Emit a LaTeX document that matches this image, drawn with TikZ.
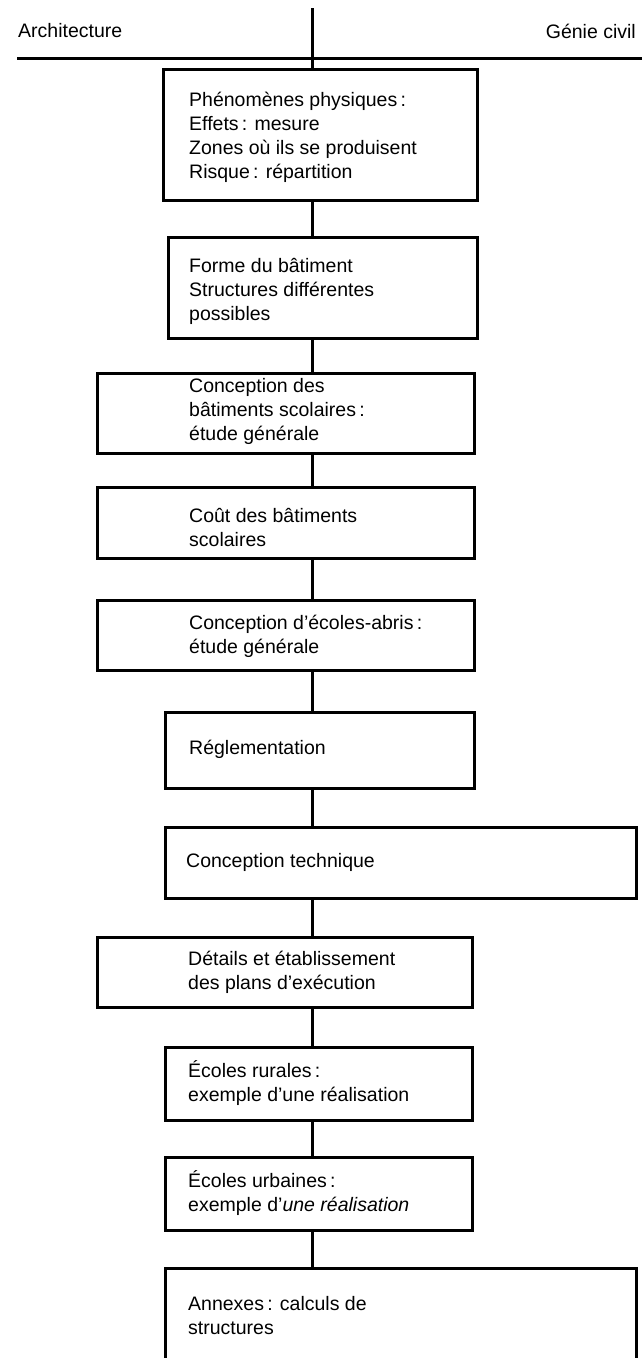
\documentclass[tikz,border=0pt]{standalone}
\usepackage{fontspec}
\setmainfont{Liberation Sans}
\usetikzlibrary{fit}
\begin{document}
\begin{tikzpicture}[x=1pt,y=-1pt,
  boxnode/.style={draw, inner sep=0pt, line width=3pt},
  txt/.style={anchor=west, align=left, inner sep=0pt, font=\fontsize{19.5}{24}\selectfont},
  conn/.style={line width=3pt},
  rule/.style={line width=3pt}]
\useasboundingbox (0,0) rectangle (642,1358);
\coordinate (axis) at (312,0);
\coordinate (top) at (312,8);
\coordinate (hl) at (17,58);
\coordinate (hr) at (642,58);

\node[txt] (arch) at (18,31) {Architecture};
\node[txt, anchor=east] (gc) at (636,31) {Génie civil};
\draw[rule] (hl) -- (hr);

% boxes
\node[boxnode, fit={(163,69) (477,200)}] (b1) {};
\node[boxnode, fit={(168,237) (477,338)}] (b2) {};
\node[boxnode, fit={(97,373) (474,453)}] (b3) {};
\node[boxnode, fit={(97,487) (474,558)}] (b4) {};
\node[boxnode, fit={(97,600) (474,670)}] (b5) {};
\node[boxnode, fit={(165,712) (474,788)}] (b6) {};
\node[boxnode, fit={(165,827) (636,898)}] (b7) {};
\node[boxnode, fit={(97,937) (472,1007)}] (b8) {};
\node[boxnode, fit={(165,1047) (472,1120)}] (b9) {};
\node[boxnode, fit={(165,1157) (472,1230)}] (b10) {};
\coordinate (b11nw) at (165,1268);
\coordinate (b11ne) at (636,1268);
\coordinate (b11sw) at (165,1362);
\coordinate (b11se) at (636,1362);
\draw[rule] (b11sw) -- (b11nw) -- (b11ne) -- (b11se);

% texts
\node[txt] (t1) at (189,137) {Phénomènes physiques\,:\\Effets\,: mesure\\Zones où ils se produisent\\Risque\,: répartition};
\node[txt] (t2) at (189,291) {Forme du bâtiment\\Structures différentes\\possibles};
\node[txt] (t3) at (189,411) {Conception des\\bâtiments scolaires\,:\\étude générale};
\node[txt] (t4) at (189,527) {Coût des bâtiments\\scolaires};
\node[txt] (t5) at (189,636) {Conception d’écoles-abris\,:\\étude générale};
\node[txt] (t6) at (189,749) {Réglementation};
\node[txt] (t7) at (186,862) {Conception technique};
\node[txt] (t8) at (188,972) {Détails et établissement\\des plans d’exécution};
\node[txt] (t9) at (188,1083) {Écoles rurales\,:\\exemple d’une réalisation};
\node[txt] (t10) at (188,1193) {Écoles urbaines\,:\\exemple d’\textit{une réalisation}};
\node[txt] (t11) at (188,1316) {Annexes\,: calculs de\\structures};

% connectors
\draw[conn] (top) -- (b1.north -| axis);
\draw[conn] (b1.south -| axis) -- (b2.north -| axis);
\draw[conn] (b2.south -| axis) -- (b3.north -| axis);
\draw[conn] (b3.south -| axis) -- (b4.north -| axis);
\draw[conn] (b4.south -| axis) -- (b5.north -| axis);
\draw[conn] (b5.south -| axis) -- (b6.north -| axis);
\draw[conn] (b6.south -| axis) -- (b7.north -| axis);
\draw[conn] (b7.south -| axis) -- (b8.north -| axis);
\draw[conn] (b8.south -| axis) -- (b9.north -| axis);
\draw[conn] (b9.south -| axis) -- (b10.north -| axis);
\draw[conn] (b10.south -| axis) -- (b11nw -| axis);
\end{tikzpicture}
\end{document}
